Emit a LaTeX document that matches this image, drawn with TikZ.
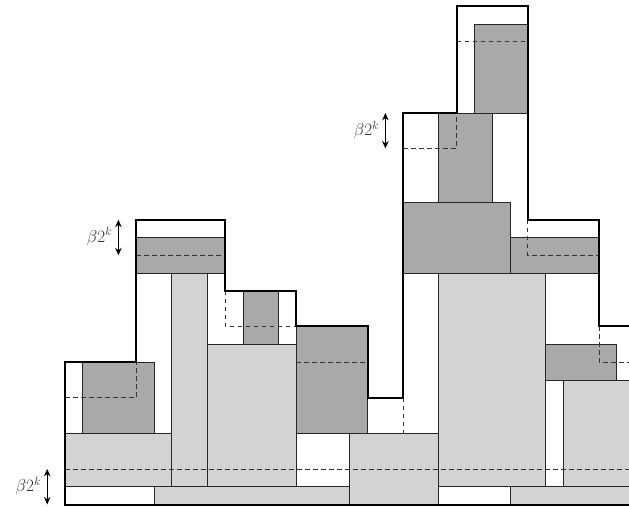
\documentclass[tikz,border=0pt]{standalone}
\usetikzlibrary{arrows.meta,calc}
\definecolor{darkfill}{RGB}{169,169,169}
\definecolor{lightfill}{RGB}{211,211,211}
\begin{document}
\begin{tikzpicture}[x=17.8bp,y=17.8bp,
  darkbox/.style={fill=darkfill,draw=black!85,line width=0.7bp},
  lightbox/.style={fill=lightfill,draw=black!85,line width=0.7bp},
  whitebox/.style={fill=white,draw=black!85,line width=0.7bp},
  guide/.style={draw=black!80,line width=0.7bp,dash pattern=on 4.5bp off 3.5bp},
  outline/.style={draw=black,line width=2bp,line join=miter},
  measure/.style={draw=black,line width=1.1bp,{Stealth[length=7.5bp,width=6.5bp]}-{Stealth[length=7.5bp,width=6.5bp]}},
  lbl/.style={font=\fontsize{18.5}{22}\selectfont,text=black!80,inner sep=0pt}]
\clip (-3.652,-0.1404) rectangle (31.685,28.343);
% light gray boxes
\path[lightbox] (5,0) rectangle (16,1);
\path[lightbox] (16,0) rectangle (21,4);
\path[lightbox] (25,0) rectangle (33,1);
\path[lightbox] (0,1) rectangle (6,4);
\path[lightbox] (6,1) rectangle (8,13);
\path[lightbox] (8,1) rectangle (13,9);
\path[lightbox] (21,1) rectangle (27,13);
\path[lightbox] (28,1) rectangle (33,7);
% white boxes
\path[whitebox] (0,0) rectangle (5,1);
\path[whitebox] (21,0) rectangle (25,1);
% dark gray boxes
\path[darkbox] (1,4) rectangle (5,8);
\path[darkbox] (4,13) rectangle (9,15);
\path[darkbox] (10,9) rectangle (12,12);
\path[darkbox] (13,4) rectangle (17,10);
\path[darkbox] (27,7) rectangle (31,9);
\path[darkbox] (19,13) rectangle (25,17);
\path[darkbox] (25,13) rectangle (30,15);
\path[darkbox] (21,17) rectangle (24,22);
\path[darkbox] (23,22) rectangle (26,27);
% dashed guides
\path[guide] (0,2) -- (33,2);
\path[guide] (0,6) -- (4,6) -- (4,8);
\path[guide] (4,14) -- (9,14);
\path[guide] (9,12) -- (9,10) -- (13,10);
\path[guide] (13,8) -- (17,8);
\path[guide] (19,6) -- (19,4);
\path[guide] (19,20) -- (22,20) -- (22,22);
\path[guide] (22,26) -- (26,26);
\path[guide] (26,16) -- (26,14) -- (30,14);
\path[guide] (30,10) -- (30,8) -- (33,8);
% skyline outline
\path[outline] (33,0) -- (0,0) -- (0,8) -- (4,8) -- (4,16) -- (9,16) -- (9,12) -- (13,12)
  -- (13,10) -- (17,10) -- (17,6) -- (19,6) -- (19,22) -- (22,22) -- (22,28) -- (26,28)
  -- (26,16) -- (30,16) -- (30,10) -- (33,10);
% measures
\coordinate (a1) at (-1,0); \coordinate (a2) at (-1,2);
\coordinate (b1) at (3,14); \coordinate (b2) at (3,16);
\coordinate (c1) at (18,20); \coordinate (c2) at (18,22);
\path[measure] (a1) -- (a2);
\path[measure] (b1) -- (b2);
\path[measure] (c1) -- (c2);
\node[lbl,anchor=east] (la) at ([xshift=-6bp,yshift=1bp]$(a1)!0.5!(a2)$) {$\beta2^k$};
\node[lbl,anchor=east] (lb) at ([xshift=-6bp,yshift=1bp]$(b1)!0.5!(b2)$) {$\beta2^k$};
\node[lbl,anchor=east] (lc) at ([xshift=-6bp,yshift=1bp]$(c1)!0.5!(c2)$) {$\beta2^k$};
\end{tikzpicture}
\end{document}
